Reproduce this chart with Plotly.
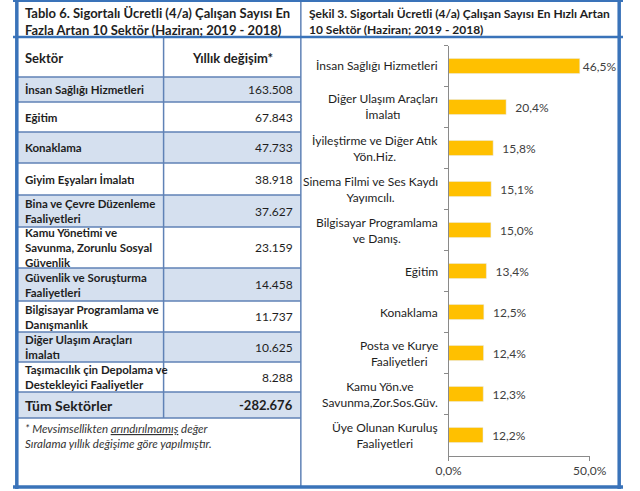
import plotly.graph_objects as go

# tablo verisi (sol panel)
tablo_sektor = [
    "İnsan Sağlığı Hizmetleri",
    "Eğitim",
    "Konaklama",
    "Giyim Eşyaları İmalatı",
    "Bina ve Çevre Düzenleme<br>Faaliyetleri",
    "Kamu Yönetimi ve<br>Savunma, Zorunlu Sosyal<br>Güvenlik",
    "Güvenlik ve Soruşturma<br>Faaliyetleri",
    "Bilgisayar Programlama ve<br>Danışmanlık",
    "Diğer Ulaşım Araçları<br>İmalatı",
    "Taşımacılık çin Depolama ve<br>Destekleyici Faaliyetler",
]
tablo_degisim = [163508, 67843, 47733, 38918, 37627, 23159, 14458, 11737, 10625, 8288]
toplam_degisim = -282676

# grafik verisi (sag panel)
grafik_sektor = [
    "İnsan Sağlığı Hizmetleri",
    "Diğer Ulaşım Araçları<br>İmalatı",
    "İyileştirme ve Diğer Atık<br>Yön.Hiz.",
    "Sinema Filmi ve Ses Kaydı<br>Yayımcılı.",
    "Bilgisayar Programlama<br>ve Danış.",
    "Eğitim",
    "Konaklama",
    "Posta ve Kurye<br>Faaliyetleri",
    "Kamu Yön.ve<br>Savunma,Zor.Sos.Güv.",
    "Üye Olunan Kuruluş<br>Faaliyetleri",
]
artis_orani = [46.5, 20.4, 15.8, 15.1, 15.0, 13.4, 12.5, 12.4, 12.3, 12.2]
x_tick_vals = [0, 50]
x_tick_text = ["0,0%", "50,0%"]

W, H = 640, 491
FONT = "Lato"
BLUE = "#3a73b9"
GRID = "#5f82b6"
SHADE = "#d5e0ef"
TXT = "#1e1e1e"


def px(x):
    return x / W


def py(y):
    return 1 - y / H


def fmt_tr(v):
    return f"{v:,}".replace(",", ".")


def fmt_pct(v):
    return f"{v:.1f}".replace(".", ",") + "%"


fig = go.Figure()

# bar chart
labels = [("" if v > 40 else "\u00a0\u00a0") + fmt_pct(v) for v in artis_orani]
fig.add_trace(go.Bar(
    x=artis_orani,
    y=grafik_sektor,
    orientation="h",
    marker=dict(color="#ffc000"),
    text=labels,
    textposition="outside",
    textfont=dict(family=FONT, size=12, color="#404040"),
    constraintext="none",
    cliponaxis=False,
    hoverinfo="skip",
))

shapes = []
annotations = []

# table rows
row_lines = [77, 102, 132, 163, 195, 227, 268, 301, 332, 362, 392, 418]
for i in range(len(tablo_sektor)):
    y0, y1 = row_lines[i], row_lines[i + 1]
    if i % 2 == 0:
        shapes.append(dict(type="rect", xref="paper", yref="paper", x0=px(5), x1=px(302),
                           y0=py(y1), y1=py(y0), fillcolor=SHADE, line=dict(width=0), layer="below"))
    yc = py((y0 + y1) / 2)
    annotations.append(dict(x=px(10), y=yc, xref="paper", yref="paper", xanchor="left", yanchor="middle",
                            align="left", showarrow=False, text="<b>" + tablo_sektor[i] + "</b>",
                            font=dict(family=FONT, size=11.5, color=TXT)))
    annotations.append(dict(x=px(296), y=yc, xref="paper", yref="paper", xanchor="right", yanchor="middle",
                            align="right", showarrow=False, text=fmt_tr(tablo_degisim[i]),
                            font=dict(family=FONT, size=12, color=TXT)))

# toplam satiri
shapes.append(dict(type="rect", xref="paper", yref="paper", x0=px(5), x1=px(302),
                   y0=py(418), y1=py(392), fillcolor=SHADE, line=dict(width=0), layer="below"))
annotations.append(dict(x=px(10), y=py(405), xref="paper", yref="paper", xanchor="left", yanchor="middle",
                        showarrow=False, text="<b>Tüm Sektörler</b>", font=dict(family=FONT, size=14, color=TXT)))
annotations.append(dict(x=px(296), y=py(405), xref="paper", yref="paper", xanchor="right", yanchor="middle",
                        showarrow=False, text="<b>" + fmt_tr(toplam_degisim) + "</b>",
                        font=dict(family=FONT, size=13, color=TXT)))

# header of table
annotations.append(dict(x=px(10), y=py(58), xref="paper", yref="paper", xanchor="left", yanchor="middle",
                        showarrow=False, text="<b>Sektör</b>", font=dict(family=FONT, size=13, color=TXT)))
annotations.append(dict(x=px(230), y=py(58), xref="paper", yref="paper", xanchor="center", yanchor="middle",
                        showarrow=False, text="<b>Yıllık değişim*</b>", font=dict(family=FONT, size=13, color=TXT)))

# footnote
annotations.append(dict(x=px(10), y=py(420), xref="paper", yref="paper", xanchor="left", yanchor="top",
                        align="left", showarrow=False,
                        text="<i>* Mevsimsellikten <u>arındırılmamış</u> değer<br>Sıralama yıllık değişime göre yapılmıştır.</i>",
                        font=dict(family=FONT, size=11.5, color="#333333")))

# panel titles
annotations.append(dict(x=px(10), y=py(21), xref="paper", yref="paper", xanchor="left", yanchor="middle",
                        align="left", showarrow=False,
                        text="<b>Tablo 6. Sigortalı Ücretli (4/a) Çalışan Sayısı En<br>Fazla Artan 10 Sektör (Haziran; 2019 - 2018)</b>",
                        font=dict(family=FONT, size=13, color=TXT)))
annotations.append(dict(x=px(308), y=py(21), xref="paper", yref="paper", xanchor="left", yanchor="middle",
                        align="left", showarrow=False,
                        text="<b>Şekil 3. Sigortalı Ücretli (4/a) Çalışan Sayısı En Hızlı Artan<br>10 Sektör (Haziran; 2019 - 2018)</b>",
                        font=dict(family=FONT, size=12, color=TXT)))

# category labels of the chart
for s in grafik_sektor:
    annotations.append(dict(x=px(448), y=s, xref="paper", yref="y", xanchor="right", yanchor="middle",
                            align="center", showarrow=False, text=s,
                            font=dict(family=FONT, size=12, color=TXT)))

# grid lines of table
for y in row_lines:
    shapes.append(dict(type="line", xref="paper", yref="paper", x0=px(5), x1=px(302), y0=py(y), y1=py(y),
                       line=dict(color=GRID, width=1.5)))
shapes.append(dict(type="line", xref="paper", yref="paper", x0=px(158), x1=px(158), y0=py(37), y1=py(418),
                   line=dict(color=GRID, width=1.5)))

# frame
shapes.append(dict(type="line", xref="paper", yref="paper", x0=px(302), x1=px(302), y0=py(0), y1=py(487),
                   line=dict(color=GRID, width=1.5)))
shapes.append(dict(type="line", xref="paper", yref="paper", x0=px(0), x1=px(640), y0=py(37), y1=py(37),
                   line=dict(color=BLUE, width=2.5)))
shapes.append(dict(type="line", xref="paper", yref="paper", x0=px(0), x1=px(640), y0=py(1), y1=py(1),
                   line=dict(color=BLUE, width=2)))
shapes.append(dict(type="line", xref="paper", yref="paper", x0=px(0), x1=px(640), y0=py(487), y1=py(487),
                   line=dict(color=BLUE, width=3.5)))
shapes.append(dict(type="line", xref="paper", yref="paper", x0=px(4), x1=px(4), y0=py(0), y1=py(489),
                   line=dict(color=BLUE, width=3.5)))
shapes.append(dict(type="line", xref="paper", yref="paper", x0=px(636), x1=px(636), y0=py(0), y1=py(489),
                   line=dict(color=BLUE, width=3.5)))

fig.update_layout(
    width=W,
    height=H,
    margin=dict(l=0, r=0, t=0, b=0),
    paper_bgcolor="white",
    plot_bgcolor="white",
    showlegend=False,
    bargap=0.63,
    font=dict(family=FONT, size=12, color=TXT),
    shapes=shapes,
    annotations=annotations,
    xaxis=dict(
        domain=[px(457), px(605)],
        range=[0, 50],
        tickvals=x_tick_vals,
        ticktext=x_tick_text,
        showgrid=False,
        zeroline=False,
        showline=True,
        linecolor="#8a8a8a",
        ticks="outside",
        ticklen=4,
        tickcolor="#8a8a8a",
        tickfont=dict(family=FONT, size=12, color="#404040"),
    ),
    yaxis=dict(
        domain=[py(455.5), py(45.5)],
        autorange="reversed",
        showticklabels=False,
        showgrid=False,
        zeroline=False,
        showline=True,
        linecolor="#8a8a8a",
        ticks="outside",
        tickson="boundaries",
        ticklen=4,
        tickcolor="#8a8a8a",
    ),
)

fig.write_html("out.html", config={"displayModeBar": False},
               post_script="document.body.style.margin='0';")
